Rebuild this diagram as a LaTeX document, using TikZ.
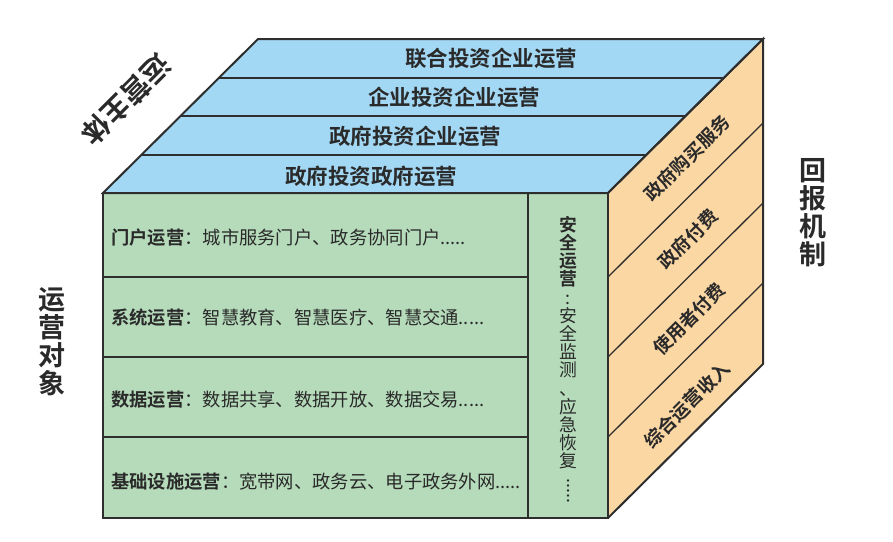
\documentclass[tikz,border=0pt]{standalone}
\usepackage{fontspec}
\setmainfont{Noto Sans CJK SC}[BoldFont={Noto Sans CJK SC Bold}]
\usetikzlibrary{calc}
\definecolor{topblue}{HTML}{A3D8F4}
\definecolor{frontgreen}{HTML}{B5DBBA}
\definecolor{sideorange}{HTML}{FBD7A4}
\definecolor{edgec}{HTML}{2E2E2E}
\definecolor{txtc}{HTML}{2A2A2A}
\begin{document}
\begin{tikzpicture}[x=1pt,y=-1pt,
  edge/.style={draw=edgec,line width=2pt,line join=miter},
  thinedge/.style={draw=edgec,line width=1.3pt},
  toptxt/.style={text=txtc,font=\bfseries\fontsize{21.5}{22}\selectfont,inner sep=0pt},
  sidetxt/.style={text=txtc,font=\bfseries\fontsize{18.5}{19}\selectfont,inner sep=0pt,rotate=45},
  fronttxt/.style={text=txtc,font=\fontsize{18.3}{19}\selectfont,inner sep=0pt,anchor=west},
  bigtxt/.style={text=txtc,font=\bfseries\fontsize{27}{28}\selectfont,inner sep=0pt,align=center},
  coltxt/.style={text=txtc,font=\fontsize{17.8}{18.2}\selectfont,inner sep=0pt,align=center}
]
\useasboundingbox (0,0) rectangle (893,541);
% corners
\coordinate (A) at (103,193);
\coordinate (B) at (608,193);
\coordinate (C) at (608,518);
\coordinate (D) at (103,518);
\coordinate (E) at (258,39);
\coordinate (F) at (763,39);
\coordinate (G) at (763,364);
% top face
\fill[topblue] (A) -- (E) -- (F) -- (B) -- cycle;
\foreach \t/\n in {0.25/1,0.5/2,0.75/3}{
  \coordinate (TL\n) at ($(E)!\t!(A)$);
  \coordinate (TR\n) at ($(F)!\t!(B)$);
  \draw[edge] (TL\n) -- (TR\n);
}
% right face
\fill[sideorange] (B) -- (F) -- (G) -- (C) -- cycle;
\coordinate (R1) at (608,277); \coordinate (S1) at (763,123);
\coordinate (R2) at (608,357); \coordinate (S2) at (763,203);
\coordinate (R3) at (608,437); \coordinate (S3) at (763,283);
\draw[thinedge] (R1) -- (S1);
\draw[thinedge] (R2) -- (S2);
\draw[thinedge] (R3) -- (S3);
% front face
\fill[frontgreen] (A) rectangle (C);
\coordinate (L1) at (103,277); \coordinate (M1) at (528,277);
\coordinate (L2) at (103,357); \coordinate (M2) at (528,357);
\coordinate (L3) at (103,437); \coordinate (M3) at (528,437);
\coordinate (VT) at (528,193); \coordinate (VB) at (528,518);
\draw[edge] (L1) -- (M1);
\draw[edge] (L2) -- (M2);
\draw[edge] (L3) -- (M3);
\draw[edge] (VT) -- (VB);
% outlines
\draw[edge] (A) -- (E) -- (F) -- (B) -- cycle;
\draw[edge] (B) -- (F) -- (G) -- (C);
\draw[edge] (A) rectangle (C);
% top texts
\node[toptxt] (t1) at (491,58) {联合投资企业运营};
\node[toptxt] (t2) at (454,97) {企业投资企业运营};
\node[toptxt] (t3) at (415,136) {政府投资企业运营};
\node[toptxt] (t4) at (371,176) {政府投资政府运营};
% side texts
\node[sidetxt] (s1) at (687,158) {政府购买服务};
\node[sidetxt] (s2) at (688,239) {政府付费};
\node[sidetxt] (s3) at (689,319) {使用者付费};
\node[sidetxt] (s4) at (687,405) {综合运营收入};
% front texts
\node[fronttxt] (f1) at (111,238) {\textbf{门户运营}：城市服务门户、政务协同门户.....};
\node[fronttxt] (f2) at (111,318) {\textbf{系统运营}：智慧教育、智慧医疗、智慧交通.....};
\node[fronttxt] (f3) at (111,400) {\textbf{数据运营}：数据共享、数据开放、数据交易.....};
\node[fronttxt] (f4) at (111,482) {\textbf{基础设施运营}：宽带网、政务云、电子政务外网.....};
% column text
\node[coltxt,anchor=north] (col) at (568,216) {\textbf{安}\\\textbf{全}\\\textbf{运}\\\textbf{营}\\:\\安\\全\\监\\测\\、\\应\\急\\恢\\复};
\node[coltxt,rotate=-90] (dots) at (568,491) {.....};
% labels
\node[bigtxt] (lab1) at (52,342) {运\\营\\对\\象};
\node[bigtxt] (lab2) at (813,213) {回\\报\\机\\制};
\node[bigtxt,rotate=-135,font=\bfseries\fontsize{28}{28}\selectfont] (lab3) at (126,100) {运营主体};
\end{tikzpicture}
\end{document}
